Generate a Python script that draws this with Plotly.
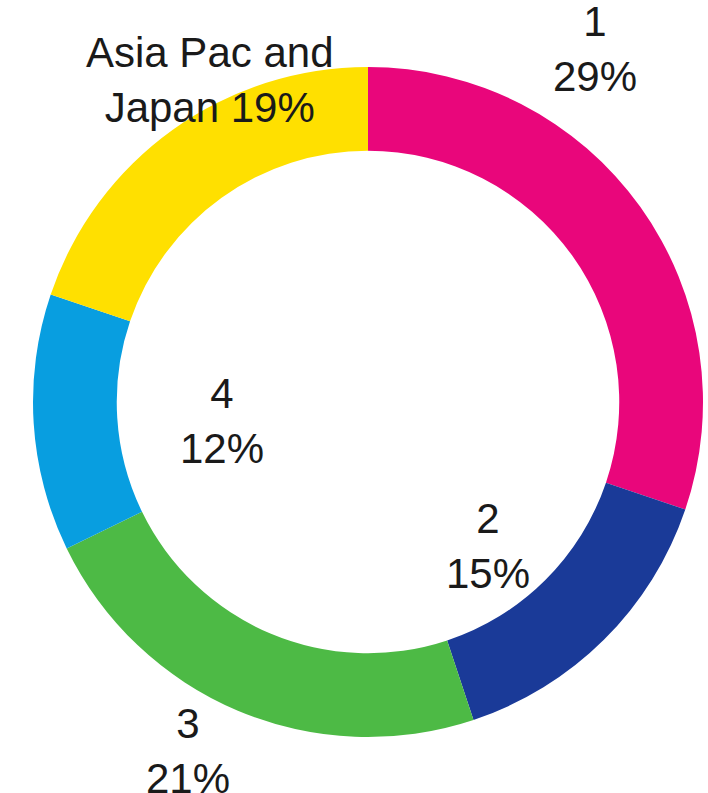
import plotly.graph_objects as go

W, H = 708, 793

labels = ["1", "2", "3", "4", "Asia Pac and Japan"]
# slice sizes (share of the ring, %)
values = [30.2, 14.7, 22.9, 12.4, 19.8]
label_text = ["1<br>29%", "2<br>15%", "3<br>21%", "4<br>12%", "Asia Pac and<br>Japan 19%"]
colors = ["#E9067B", "#1A3A98", "#4DBA45", "#089EE0", "#FFE000"]

# label centres in pixels (x, y from top)
label_pos = [(595, 49), (488, 546), (188, 751), (222, 421), (210, 80)]

fig = go.Figure(go.Pie(
    labels=labels,
    values=values,
    hole=0.75,
    sort=False,
    direction="clockwise",
    rotation=0,
    marker=dict(colors=colors, line=dict(width=0)),
    textinfo="none",
    hoverinfo="label+value",
    showlegend=False,
    domain=dict(x=[33 / W, 703 / W], y=[1 - 737 / H, 1 - 67 / H]),
))

for txt, (px, py) in zip(label_text, label_pos):
    fig.add_annotation(
        x=px / W, y=1 - py / H, xref="paper", yref="paper",
        text=txt, showarrow=False, xanchor="center", yanchor="middle",
        font=dict(family="Liberation Sans, Arial, sans-serif", size=42, color="#1a1a1a"),
        align="center",
    )

fig.update_layout(
    width=W, height=H,
    margin=dict(l=0, r=0, t=0, b=0),
    paper_bgcolor="white",
    plot_bgcolor="white",
)

fig.write_html(
    "out.html",
    config={"displayModeBar": False},
    post_script="document.body.style.margin='0';document.body.style.padding='0';",
)
